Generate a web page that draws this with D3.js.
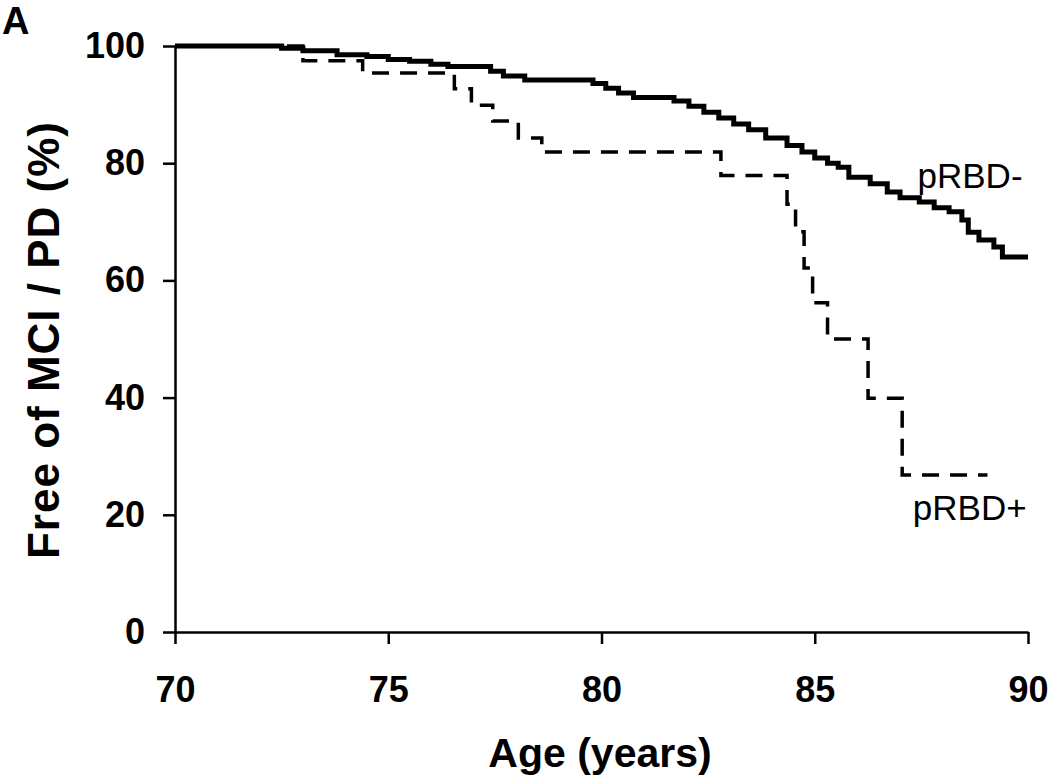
<!DOCTYPE html>
<html>
<head>
<meta charset="utf-8">
<script src="https://cdn.jsdelivr.net/npm/d3@7"></script>
<style>
    body { margin: 0; background: #fff; }
    text { font-family: "Liberation Sans", Arial, sans-serif; fill: #000; }
    .axis path, .axis line { stroke: #000; stroke-width: 2.5; }
    .axis text { font-size: 36px; font-weight: bold; }
</style>
</head>
<body>
<div id="chart"></div>
<script>
// pRBD- (solid)
const negAge = [70, 72.5, 73.0, 73.8, 74.5, 75.0, 75.5, 76.0, 76.4, 77.4, 77.7, 78.2, 79.8, 80.1, 80.4, 80.75,
    81.7, 82.05, 82.4, 82.75, 83.1, 83.45, 83.85, 84.35, 84.7, 85.0, 85.3, 85.55, 85.8, 86.3, 86.7, 87.0,
    87.45, 87.8, 88.15, 88.45, 88.6, 88.85, 89.2, 89.4, 90.0];
const negSurv = [100, 99.6, 99.2, 98.5, 98.2, 97.7, 97.4, 96.9, 96.5, 95.7, 94.9, 94.2, 93.6, 92.8, 92.0, 91.2,
    90.6, 89.7, 88.7, 87.7, 86.7, 85.7, 84.3, 83.0, 81.9, 80.9, 80.0, 79.3, 77.6, 76.5, 75.1, 74.1,
    73.4, 72.4, 71.7, 70.3, 68.2, 66.9, 65.7, 64.0, 64.0];

// pRBD+ (dashed)
const posAge = [70, 73.0, 74.4, 76.55, 76.95, 77.45, 78.05, 78.6, 82.8, 84.35, 84.55, 84.75, 84.95, 85.3, 86.25, 87.05, 89.05];
const posSurv = [100, 97.5, 95.4, 92.7, 89.9, 87.2, 84.3, 81.9, 77.9, 73.0, 68.3, 62.1, 56.2, 50.0, 39.9, 26.8, 26.8];

const xTicks = [70, 75, 80, 85, 90];
const yTicks = [0, 20, 40, 60, 80, 100];

const width = 1050;
const height = 779;

const svg = d3.select("#chart")
    .append("svg")
    .attr("width", width)
    .attr("height", height);

const x = d3.scaleLinear().domain([70, 90]).range([175, 1028]);
const y = d3.scaleLinear().domain([0, 100]).range([632, 46]);

svg.append("g")
    .attr("class", "axis")
    .attr("transform", `translate(0,${y(0)})`)
    .call(d3.axisBottom(x).tickValues(xTicks).tickSize(12).tickSizeOuter(0).tickPadding(32));

svg.append("g")
    .attr("class", "axis")
    .attr("transform", `translate(${x(70)},0)`)
    .call(d3.axisLeft(y).tickValues(yTicks).tickSize(12).tickSizeOuter(0).tickPadding(18));

const line = d3.line()
    .x(d => x(d[0]))
    .y(d => y(d[1]))
    .curve(d3.curveStepAfter);

svg.append("path")
    .datum(posAge.map((a, i) => [a, posSurv[i]]))
    .attr("d", line)
    .attr("fill", "none")
    .attr("stroke", "#000")
    .attr("stroke-width", 3.5)
    .attr("stroke-dasharray", "17,11");

svg.append("path")
    .datum(negAge.map((a, i) => [a, negSurv[i]]))
    .attr("d", line)
    .attr("fill", "none")
    .attr("stroke", "#000")
    .attr("stroke-width", 5);

svg.append("text")
    .attr("x", x(87.41))
    .attr("y", 188)
    .style("font-size", "35px")
    .text("pRBD-");

svg.append("text")
    .attr("x", x(87.3))
    .attr("y", 520)
    .style("font-size", "35px")
    .text("pRBD+");

svg.append("text")
    .attr("x", 600)
    .attr("y", 767)
    .attr("text-anchor", "middle")
    .style("font-size", "41px")
    .style("font-weight", "bold")
    .text("Age (years)");

svg.append("text")
    .attr("transform", "translate(59,340) rotate(-90)")
    .attr("text-anchor", "middle")
    .style("font-size", "44px")
    .style("font-weight", "bold")
    .style("letter-spacing", "1px")
    .text("Free of MCI / PD (%)");

svg.append("text")
    .attr("x", 2)
    .attr("y", 34)
    .style("font-size", "38px")
    .style("font-weight", "bold")
    .text("A");
</script>
</body>
</html>
